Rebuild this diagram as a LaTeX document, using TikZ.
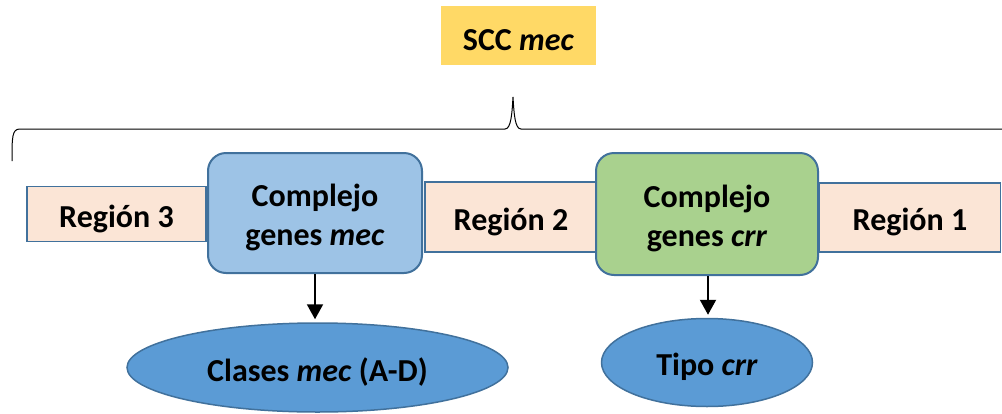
\documentclass[tikz,border=0pt]{standalone}
\usepackage{fontspec}
\setmainfont{Carlito}
\usetikzlibrary{shapes.geometric,arrows.meta}
\definecolor{titlegold}{HTML}{FFD966}
\definecolor{peach}{HTML}{FBE5D6}
\definecolor{edgeblue}{HTML}{41719C}
\definecolor{lightblue}{HTML}{9DC3E6}
\definecolor{lightgreen}{HTML}{A9D18E}
\definecolor{midblue}{HTML}{5B9BD5}
\tikzset{
  lbl/.style={font=\fontsize{32}{39}\selectfont\bfseries, align=center, inner sep=0pt},
  % text sits a little below the geometric centre of its shape
  txt/.style={label={[lbl, yshift=-4.5pt]center:{#1}}},
  shapebase/.style={inner sep=0pt},
  region/.style={shapebase, draw=edgeblue, line width=1.5pt, fill=peach, rectangle},
  genebox/.style={shapebase, draw=edgeblue, line width=2pt, rectangle, rounded corners=18pt,
                  minimum width=214pt, minimum height=120pt},
  product/.style={shapebase, draw=edgeblue, line width=1.5pt, fill=midblue, ellipse},
  flow/.style={line width=2pt, -{Triangle[width=16pt,length=15pt]}, shorten >=3pt},
}
\begin{document}
\begin{tikzpicture}[x=1pt, y=-1pt]
  \useasboundingbox (0,0) rectangle (1002,413);
  % title
  \node[shapebase, fill=titlegold, minimum width=155pt, minimum height=59pt,
        txt={SCC \textit{mec}}] (title) at (518.5,35.5) {};
  % brace spanning the element
  \begin{scope}
    \clip (0,0) rectangle (1002,413);
    \draw[line width=1pt] (12,161) .. controls (12,137) and (12,129) .. (20,129)
      -- (505,129) .. controls (511,129) and (512,114) .. (513,97)
      .. controls (514,114) and (515,129) .. (521,129)
      -- (1006,129) .. controls (1014,129) and (1014,137) .. (1014,161);
  \end{scope}
  % flanking regions
  \node[region, minimum width=179pt, minimum height=55pt, txt={Región 3}] (r3) at (116.5,214) {};
  \node[region, minimum width=172pt, minimum height=70pt, txt={Región 2}] (r2) at (511,217) {};
  \node[region, minimum width=181pt, minimum height=69pt, txt={Región 1}] (r1) at (910,217.5) {};
  % gene complexes
  \node[genebox, fill=lightblue, txt={Complejo\\genes \textit{mec}}] (mec) at (315,213) {};
  \node[genebox, fill=lightgreen, minimum width=222pt, minimum height=122pt,
        txt={Complejo\\genes \textit{crr}}] (crr) at (707,214) {};
  % resulting classes
  \node[product, minimum width=381pt, minimum height=89pt, txt={Clases \textit{mec} (A-D)}] (mecc) at (317.5,367.5) {};
  \node[product, minimum width=211pt, minimum height=88pt, txt={Tipo \textit{crr}}] (crrt) at (707,362.5) {};
  % arrows
  \draw[flow] (mec.south) -- (mec.south |- mecc.north);
  \draw[flow] ([xshift=1pt]crr.south) -- ([xshift=1pt]crr.south |- crrt.north);
\end{tikzpicture}
\end{document}
